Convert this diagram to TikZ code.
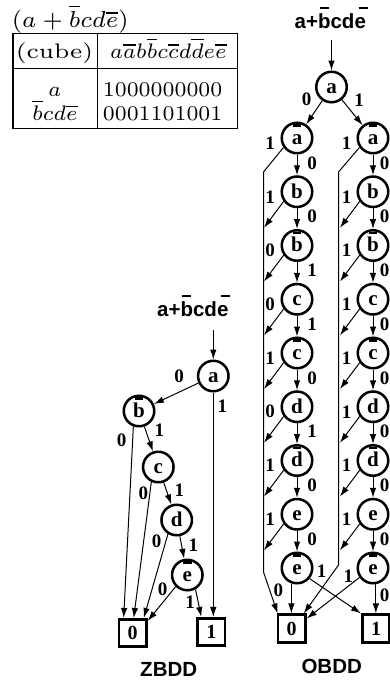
\documentclass[tikz,border=0pt]{standalone}
\usepackage{fontspec}
\newfontfamily\lsans{Liberation Sans}
\newfontfamily\lserif{Liberation Serif}
\usetikzlibrary{arrows.meta,calc}
\newcommand\nbar[1]{\ooalign{#1\cr\hidewidth\raisebox{17.5pt}{\rule{8.5pt}{2.5pt}}\hidewidth\cr}}
\newcommand\sbar[2][0pt]{\ooalign{#2\cr\hidewidth\kern#1\raisebox{19pt}{\rule{9pt}{2.4pt}}\hidewidth\cr}}
\newcommand\tb[3][1]{\scalebox{#1}[1]{\scalebox{#2}{\fontsize{7}{8.4}\selectfont #3}}}
\tikzset{
  vnode/.style={circle, draw, line width=2.5pt, minimum size=30.5pt, inner sep=0pt,
    text height=12.5pt, text depth=0pt, font=\lserif\bfseries\fontsize{21}{22}\selectfont},
  term/.style={rectangle, draw, line width=2.6pt, minimum size=27.5pt, inner sep=0pt,
    font=\lserif\bfseries\fontsize{20}{22}\selectfont},
  edge/.style={line width=1pt, -{Latex[length=10pt,width=6.5pt]}},
  lab/.style={inner sep=0pt, font=\lserif\bfseries\fontsize{19}{20}\selectfont},
  ttl/.style={inner sep=0pt, font=\lsans\bfseries\fontsize{20.5}{22}\selectfont},
  tbl/.style={line width=1.6pt},
  tt/.style={inner sep=0pt}
}
\begin{document}
\begin{tikzpicture}[x=1pt,y=-1pt]
\useasboundingbox (0,0) rectangle (390,680);
% ---------- table ----------
\node[tt, anchor=base west] (ttitle) at (11.7,27.5) {\tb{3.3}{$(a+\overline{b}cd\overline{e})$}};
\draw[tbl] (12.7,33.3) rectangle (237.3,128.3);
\draw[tbl] (97.3,33.3) -- (97.3,128.3);
\draw[tbl] (12.7,68.3) -- (237.3,68.3);
\node[tt, anchor=base] (th1) at (54.5,58.3) {\tb[1.15]{3}{(cube)}};
\node[tt, anchor=base west] (th2) at (110,58.3) {\tb{3}{$a\overline{a}b\overline{b}c\overline{c}d\overline{d}e\overline{e}$}};
\node[tt, anchor=base] (tr1a) at (55,96.7) {\tb{3}{$a$}};
\node[tt, anchor=base] (tr2a) at (55,120) {\tb{3}{$\overline{b}cd\overline{e}$}};
\node[tt, anchor=base west] (tr1b) at (102.7,96.7) {\tb{3}{1000000000}};
\node[tt, anchor=base west] (tr2b) at (102.7,120) {\tb{3}{0001101001}};
% ---------- ZBDD ----------
\node[ttl, anchor=base] (ztitle) at (192.8,316) {a+\sbar{b}cd\sbar[6pt]{e}};
\coordinate (zin) at (213.3,330);
\node[vnode] (za) at (213.3,376) {a};
\node[vnode] (zb) at (139,411) {\nbar{b}};
\node[vnode] (zc) at (158.3,467) {c};
\node[vnode] (zd) at (176.7,520) {d};
\node[vnode] (ze) at (187.3,575) {\nbar{e}};
\node[term] (z0) at (132.7,633) {0};
\node[term] (z1) at (211.3,632) {1};
\node[ttl, anchor=base] (zname) at (168.7,676) {ZBDD};
\draw[edge] (zin) -- (za);
\draw[edge] (za) -- (zb);
\draw[edge] (za.south) -- (za.south |- z1.north);
\draw[edge] (zb.250) -- ($(z0.north west)+(6,0)$);
\draw[edge] (zb) -- (zc);
\draw[edge] (zc.245) -- ($(z0.north)+(1,0)$);
\draw[edge] (zc) -- (zd);
\draw[edge] (zd.238) -- ($(z0.north east)+(-4,0)$);
\draw[edge] (zd) -- (ze);
\draw[edge] (ze.225) -- ($(z0.north east)+(0,3)$);
\draw[edge] (ze.300) -- ($(z1.north west)+(5,0)$);
\node[lab] (zl1) at (179,376) {0};
\node[lab] (zl2) at (222.3,406.7) {1};
\node[lab] (zl3) at (121.7,440) {0};
\node[lab] (zl4) at (159.3,430) {1};
\node[lab] (zl5) at (143.3,493.3) {0};
\node[lab] (zl6) at (179.3,490.7) {1};
\node[lab] (zl7) at (156.7,541.7) {0};
\node[lab] (zl8) at (193.3,545) {1};
\node[lab] (zl9) at (162.7,589.3) {0};
\node[lab] (zl10) at (190,602.7) {1};
% ---------- OBDD ----------
\node[ttl, anchor=base] (otitle) at (330.3,28.3) {a+\sbar{b}cd\sbar[6pt]{e}};
\coordinate (oin) at (331.5,40);
\node[vnode] (oa) at (331.5,87) {a};
\foreach \i/\t/\y in {1/{\nbar{a}}/138, 2/{b}/191.75, 3/{\nbar{b}}/245.5, 4/{c}/299.25,
  5/{\nbar{c}}/353, 6/{d}/406.75, 7/{\nbar{d}}/460.5, 8/{e}/514.25, 9/{\nbar{e}}/568}{
  \node[vnode] (L\i) at (297,\y) {\t};
  \node[vnode] (R\i) at (373,\y) {\t};
}
\node[term] (o0) at (291.7,628.5) {0};
\node[term] (o1) at (376,628.5) {1};
\node[ttl, anchor=base] (oname) at (331.7,673.3) {OBDD};
\draw[edge] (oin) -- (oa);
\draw[edge] (oa) -- (L1);
\draw[edge] (oa) -- (R1);
\node[lab] (ol0) at (306.7,99) {0};
\node[lab] (ol1) at (359,100) {1};
\foreach \i in {1,...,8}{
  \pgfmathtruncatemacro{\j}{\i+1}
  \draw[edge] (L\i) -- (L\j);
  \draw[edge] (R\i) -- (R\j);
}
\foreach \i in {2,...,8}{
  \path (L\i.center) ++(-33,36) coordinate (LX\i);
  \path (R\i.center) ++(-33,36) coordinate (RX\i);
  \draw[edge] (L\i.216) -- (LX\i);
  \draw[edge] (R\i.216) -- (RX\i);
}
\coordinate (LT) at (263.5,172);
\coordinate (LB) at (263.5,572);
\coordinate (RT) at (338.5,172);
\coordinate (RB) at (338.5,565);
\draw[edge] (L1.215) -- (LT) -- (LB) -- ($(o0.north west)+(1,0)$);
\draw[edge] (R1.215) -- (RT) -- (RB) -- ($(o0.north east)+(-3,0)$);
\draw[edge] (L9.250) -- (L9.250 |- o0.north);
\draw[edge] (L9.320) -- (o1.north west);
\draw[edge] (R9.280) -- (R9.280 |- o1.north);
\draw[edge] (R9.215) -- ($(o0.east)+(0,-10)$);
% column labels: diag / down
\foreach \i/\a/\b/\y in {1/1/0/138, 2/1/0/191.75, 3/0/1/245.5, 4/0/1/299.25, 5/1/0/353,
  6/0/1/406.75, 7/1/0/460.5, 8/1/0/514.25}{
  \node[lab] (LdA\i) at (270,\y+5) {\a};
  \node[lab] (LdB\i) at (312,\y+24.9) {\b};
  \node[lab] (RdA\i) at (346.5,\y+5) {1};
  \node[lab] (RdB\i) at (384.6,\y+24.9) {0};
}
\node[lab] (Le0) at (278.3,590) {0};
\node[lab] (Le1) at (321.7,571.7) {1};
\node[lab] (Re1) at (348.3,576.7) {1};
\node[lab] (Re0) at (384.6,595) {0};
\end{tikzpicture}
\end{document}
